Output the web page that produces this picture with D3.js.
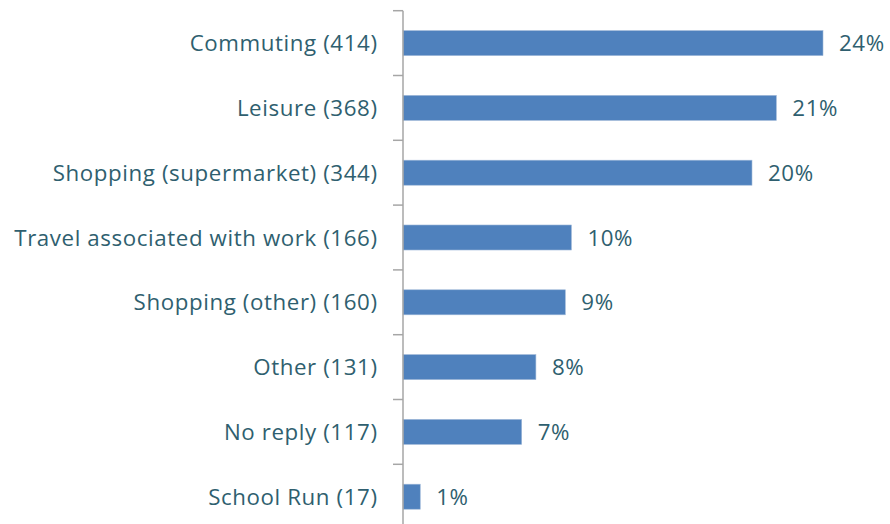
<!DOCTYPE html>
<html><head><meta charset="utf-8">
<script src="https://cdn.jsdelivr.net/npm/d3@7"></script>
<style>body{margin:0;background:#fff}svg{display:block}</style>
</head><body>
<script>
const categories = ["Commuting (414)","Leisure (368)","Shopping (supermarket) (344)","Travel associated with work (166)","Shopping (other) (160)","Other (131)","No reply (117)","School Run (17)"];
const counts = [414,368,344,166,160,131,117,17];
const percents = ["24%","21%","20%","10%","9%","8%","7%","1%"];

const W=890,H=524;
const svg=d3.select("body").append("svg").attr("width",W).attr("height",H);
const x=d3.scaleLinear().domain([0,414]).range([403,823]);
const y=d3.scaleBand().domain(categories).range([10.7,529.1]).paddingInner(0.614).paddingOuter(0.307);
const textColor="#2f5f6f";
const font="'Open Sans', sans-serif";
const fs=22.3;

svg.selectAll("rect.bar").data(categories).join("rect")
  .attr("x",x(0)).attr("y",d=>y(d))
  .attr("width",(d,i)=>x(counts[i])-x(0)).attr("height",y.bandwidth())
  .attr("fill","#4f81bd").attr("stroke","#9fb8d8").attr("stroke-width",0.6);

const g=svg.append("g");
g.append("line").attr("x1",403).attr("x2",403).attr("y1",10.7).attr("y2",H).attr("stroke","#a6a6a6").attr("stroke-width",1.5);
const step=y.step();
const tickYs=d3.range(categories.length+1).map(i=>10.7+i*step);
g.selectAll("line.tick").data(tickYs).join("line").attr("class","tick")
  .attr("x1",393).attr("x2",403).attr("y1",d=>d).attr("y2",d=>d)
  .attr("stroke","#a6a6a6").attr("stroke-width",1.5);

svg.selectAll("text.cat").data(categories).join("text").attr("class","cat")
  .attr("x",377.6).attr("y",d=>y(d)+y.bandwidth()/2)
  .attr("text-anchor","end").attr("dy","0.36em")
  .attr("font-family",font).attr("font-size",fs).attr("letter-spacing","0.6px").attr("fill",textColor)
  .text(d=>d);

svg.selectAll("text.pct").data(categories).join("text").attr("class","pct")
  .attr("x",(d,i)=>x(counts[i])+16).attr("y",d=>y(d)+y.bandwidth()/2)
  .attr("dy","0.36em")
  .attr("font-family",font).attr("font-size",fs).attr("letter-spacing","0.6px").attr("fill",textColor)
  .text((d,i)=>percents[i]);
</script>
</body></html>
